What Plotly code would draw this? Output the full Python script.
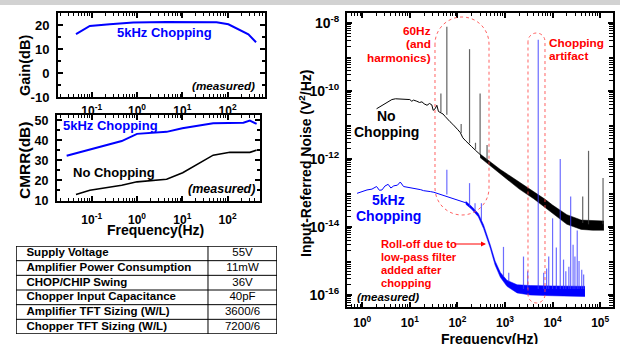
import plotly.graph_objects as go

W, H = 620, 344
FONT = "Liberation Sans, Arial, Helvetica, sans-serif"
BLUE = "#0000ff"
RED = "#ff0000"

# ---------------- data: gain plot ----------------
gain_freq = [0.045, 0.091, 0.25, 0.83, 4.5, 57, 104, 288, 425]
gain_db = [16.2, 19.6, 20.3, 21.0, 21.3, 21.1, 20.3, 16.1, 12.8]

# ---------------- data: CMRR plot ----------------
cmrr_chop_freq = [0.028, 0.091, 0.46, 1.0, 4.5, 10, 48, 223, 310, 437]
cmrr_chop_db = [32.3, 35.5, 39.6, 43.2, 44.2, 46.0, 48.5, 48.8, 49.8, 48.2]
cmrr_nochop_freq = [0.045, 0.091, 0.46, 1.0, 4.5, 10.2, 48, 112, 310, 437]
cmrr_nochop_db = [13.0, 15.1, 17.6, 19.3, 20.6, 23.8, 32.6, 34.0, 34.0, 35.1]

# ---------------- data: table ----------------
table_params = ["Supply Voltage", "Amplifier Power Consumption", "CHOP/CHIP Swing",
                "Chopper Input Capacitance", "Amplifier TFT Sizing (W/L)",
                "Chopper TFT Sizing (W/L)"]
table_values = ["55V", "11mW", "36V", "40pF", "3600/6", "7200/6"]

# ---------------- data: noise spectrum ----------------
nochop_freq = [2.0, 2.5, 3.0, 3.5, 4.2, 5.0, 6.0, 7.0, 8.5, 10, 11, 12, 14, 16, 18, 20,
               23, 26, 29, 31, 34, 37, 40, 44, 50, 55, 62, 70, 80, 90, 100, 115, 130,
               150, 170, 200, 240, 280, 320]
nochop_psd = [3.0e-11, 3.6e-11, 4.4e-11, 5.0e-11, 5.6e-11, 5.9e-11, 5.8e-11, 6.0e-11,
              5.7e-11, 5.6e-11, 5.0e-11, 5.4e-11, 5.0e-11, 4.6e-11, 4.8e-11, 4.2e-11,
              3.8e-11, 4.3e-11, 3.9e-11, 2.7e-11, 3.0e-11, 3.8e-11, 2.5e-11, 2.3e-11,
              2.1e-11, 1.8e-11, 1.45e-11, 1.25e-11, 1.05e-11, 9.0e-12, 7.5e-12, 6.0e-12,
              4.2e-12, 3.4e-12, 2.8e-12, 2.3e-12, 1.8e-12, 1.5e-12, 1.25e-12]
nochop_band_freq = [300, 500, 800, 1000, 2000, 4000, 7000, 10000, 20000, 40000, 70000, 120000]
nochop_band_lo = [1.1e-12, 6.2e-13, 3.5e-13, 2.7e-13, 1.3e-13, 6.8e-14, 3.7e-14, 2.4e-14,
                  1.2e-14, 8.5e-15, 8.0e-15, 8.0e-15]
nochop_band_hi = [1.4e-12, 8.0e-13, 4.9e-13, 4.0e-13, 2.1e-13, 1.15e-13, 6.5e-14, 4.4e-14,
                  2.3e-14, 1.6e-14, 1.55e-14, 1.5e-14]
nochop_spike_freq = [45, 60, 120, 180, 240, 300, 420, 43000, 57000, 115000]
nochop_spike_base = [2.4e-11, 2.0e-11, 5.8e-12, 2.9e-12, 1.9e-12, 1.35e-12, 9.0e-13,
                     1.3e-14, 1.2e-14, 1.2e-14]
nochop_spike_top = [8.5e-11, 7.8e-9, 1.07e-11, 1.7e-9, 3.0e-12, 8.5e-11, 2.6e-12,
                    7.9e-14, 1.74e-12, 2.75e-13]

chop_freq = [0.78, 1.0, 1.26, 1.6, 2.0, 2.3, 2.6, 3.0, 3.5, 4.0, 4.6, 5.5, 6.3, 7.4, 8.5,
             10, 12, 14, 17, 19.5, 23, 27, 32, 37, 44, 51, 62, 83, 100, 135, 160]
chop_psd = [9.8e-14, 1.1e-13, 1.23e-13, 1.3e-13, 1.55e-13, 1.2e-13, 1.23e-13, 1.6e-13,
            1.8e-13, 1.4e-13, 1.62e-13, 1.7e-13, 2.1e-13, 1.55e-13, 1.5e-13, 1.4e-13,
            1.35e-13, 1.3e-13, 1.25e-13, 1.17e-13, 1.15e-13, 1.1e-13, 1.05e-13, 9.8e-14,
            9.4e-14, 8.7e-14, 8.0e-14, 6.9e-14, 6.3e-14, 5.5e-14, 5.0e-14]
chop_band_freq = [150, 200, 275, 355, 490, 620, 800, 1100, 1800, 3400, 10000, 48000]
chop_band_lo = [4.7e-14, 3.3e-14, 2.0e-14, 9.0e-15, 2.4e-15, 7.6e-16, 3.3e-16, 1.8e-16,
                1.15e-16, 1.0e-16, 9.5e-17, 9.0e-17]
chop_band_hi = [5.7e-14, 4.0e-14, 2.5e-14, 1.15e-14, 3.0e-15, 1.0e-15, 4.6e-16, 2.7e-16,
                2.0e-16, 1.9e-16, 1.85e-16, 1.8e-16]
chop_spike_freq = [60, 180, 235, 320, 930, 1200, 2450, 3000, 5000, 6500, 7500, 8300, 10000,
                   12000, 14500, 17000, 19000, 22000, 24000, 27000, 29500, 33000, 36000,
                   41000, 45000]
chop_spike_base = [9.0e-14, 4.0e-14, 3.0e-14, 1.5e-14, 3.5e-16, 2.5e-16, 1.5e-16, 1.5e-16,
                   1.5e-16, 1.5e-16, 1.5e-16, 1.5e-16, 1.5e-16, 1.5e-16, 1.5e-16, 1.5e-16,
                   1.5e-16, 1.5e-16, 1.5e-16, 1.5e-16, 1.5e-16, 1.5e-16, 1.5e-16, 1.5e-16,
                   1.5e-16]
chop_spike_top = [4.8e-13, 1.95e-13, 5.0e-14, 5.0e-14, 2.6e-15, 4.5e-16, 1.35e-15, 5.0e-16,
                  3.2e-9, 4.5e-16, 6.0e-16, 1.35e-15, 1.8e-14, 2.5e-15, 1.0e-12, 1.1e-15,
                  5.0e-16, 6.8e-16, 7.9e-14, 3.0e-15, 1.35e-15, 7.9e-15, 1.0e-15, 5.5e-16,
                  4.0e-16]


def px(x):
    return x / W


def py(y):
    return 1 - y / H


def spikes(freqs, bases, tops):
    xs, ys = [], []
    for f, b, t in zip(freqs, bases, tops):
        xs += [f, f, None]
        ys += [b, t, None]
    return xs, ys


fig = go.Figure()

# gain
fig.add_trace(go.Scatter(x=gain_freq, y=gain_db, mode="lines", line=dict(color=BLUE, width=2),
                         xaxis="x", yaxis="y"))
# cmrr
fig.add_trace(go.Scatter(x=cmrr_chop_freq, y=cmrr_chop_db, mode="lines",
                         line=dict(color=BLUE, width=2), xaxis="x2", yaxis="y2"))
fig.add_trace(go.Scatter(x=cmrr_nochop_freq, y=cmrr_nochop_db, mode="lines",
                         line=dict(color="black", width=1.6), xaxis="x2", yaxis="y2"))

# noise: no chopping
fig.add_trace(go.Scatter(x=nochop_band_freq, y=nochop_band_lo, mode="lines",
                         line=dict(color="black", width=0.5), xaxis="x3", yaxis="y3"))
fig.add_trace(go.Scatter(x=nochop_band_freq, y=nochop_band_hi, mode="lines",
                         line=dict(color="black", width=0.5), fill="tonexty",
                         fillcolor="black", xaxis="x3", yaxis="y3"))
fig.add_trace(go.Scatter(x=nochop_freq, y=nochop_psd, mode="lines",
                         line=dict(color="black", width=1), xaxis="x3", yaxis="y3"))
sx, sy = spikes(nochop_spike_freq, nochop_spike_base, nochop_spike_top)
fig.add_trace(go.Scatter(x=sx, y=sy, mode="lines", line=dict(color="rgba(60,60,60,0.8)", width=1.2),
                         xaxis="x3", yaxis="y3"))

# noise: chopping
fig.add_trace(go.Scatter(x=chop_band_freq, y=chop_band_lo, mode="lines",
                         line=dict(color=BLUE, width=0.5), xaxis="x3", yaxis="y3"))
fig.add_trace(go.Scatter(x=chop_band_freq, y=chop_band_hi, mode="lines",
                         line=dict(color=BLUE, width=0.5), fill="tonexty",
                         fillcolor=BLUE, xaxis="x3", yaxis="y3"))
fig.add_trace(go.Scatter(x=chop_freq, y=chop_psd, mode="lines",
                         line=dict(color=BLUE, width=1), xaxis="x3", yaxis="y3"))
sx, sy = spikes(chop_spike_freq, chop_spike_base, chop_spike_top)
fig.add_trace(go.Scatter(x=sx, y=sy, mode="lines", line=dict(color="rgba(60,60,255,0.75)", width=1.2),
                         xaxis="x3", yaxis="y3"))

# table text (on hidden axes x4/y4)
n_rows = len(table_params)
fig.add_trace(go.Scatter(x=[0.04] * n_rows, y=[i + 0.5 for i in range(n_rows)],
                         text=["<b>%s</b>" % t for t in table_params], mode="text",
                         textposition="middle right",
                         textfont=dict(family=FONT, size=11.5, color="black"),
                         xaxis="x4", yaxis="y4"))
fig.add_trace(go.Scatter(x=[0.868] * n_rows, y=[i + 0.5 for i in range(n_rows)],
                         text=table_values, mode="text", textposition="middle center",
                         textfont=dict(family=FONT, size=11.5, color="black"),
                         xaxis="x4", yaxis="y4"))


def decade_minor(lo, hi):
    return [m * 10.0 ** k for k in range(lo, hi + 1) for m in range(2, 10)]


def sup(k):
    return "<b>10<sup>%d</sup></b>" % k


axis_common = dict(showgrid=False, zeroline=False, showline=True, linecolor="black",
                   linewidth=2, mirror="ticks", ticks="inside", ticklen=5, tickwidth=1.5,
                   tickcolor="black", automargin=False)
tick_font_small = dict(family=FONT, size=12, color="black")
tick_font_y = dict(family=FONT, size=13, color="black")

left_minor = dict(tickvals=decade_minor(-2, 2), ticks="inside", ticklen=3, tickwidth=1,
                  tickcolor="black")

gain_ticks = [-10, 0, 10, 20]
cmrr_ticks = [10, 20, 30, 40, 50]

fig.update_layout(
    template="none",
    width=W, height=H, margin=dict(l=0, r=0, t=0, b=0, pad=0, autoexpand=False),
    paper_bgcolor="white", plot_bgcolor="white", showlegend=False, hovermode=False,
    font=dict(family=FONT, color="black"),
    xaxis=dict(axis_common, type="log", domain=[px(58), px(265)], range=[-1.744, 2.826],
               tickvals=[0.1, 1, 10, 100], ticktext=[sup(-1), sup(0), sup(1), sup(2)],
               tickfont=tick_font_small, minor=left_minor, anchor="y", ticklabelstandoff=2),
    yaxis=dict(axis_common, domain=[py(97), py(13)], range=[-10, 25],
               tickvals=gain_ticks, ticktext=["<b>%d</b>" % v for v in gain_ticks],
               tickfont=tick_font_y, anchor="x",
               minor=dict(dtick=5, ticks="inside", ticklen=3, tickcolor="black"),
               ticklabelstandoff=4),
    xaxis2=dict(axis_common, type="log", domain=[px(57), px(260)], range=[-1.766, 2.715],
                tickvals=[0.1, 1, 10, 100], ticktext=[sup(-1), sup(0), sup(1), sup(2)],
                tickfont=tick_font_small, minor=left_minor, anchor="y2", ticklabelstandoff=7),
    yaxis2=dict(axis_common, domain=[py(200.5), py(115)], range=[10, 52.6],
                tickvals=cmrr_ticks, ticktext=["<b>%d</b>" % v for v in cmrr_ticks],
                tickfont=dict(tick_font_y, size=12.5),
                anchor="x2", minor=dict(dtick=5, ticks="inside", ticklen=3, tickcolor="black"),
                ticklabelstandoff=4),
    xaxis3=dict(axis_common, type="log", domain=[px(347), px(613)], range=[-0.32, 5.27],
                tickvals=[1, 10, 100, 1e3, 1e4, 1e5],
                ticktext=[sup(0), sup(1), sup(2), sup(3), sup(4), sup(5)],
                tickfont=tick_font_small, anchor="y3", ticklabelstandoff=4,
                minor=dict(tickvals=decade_minor(-1, 5), ticks="inside", ticklen=3,
                           tickwidth=1, tickcolor="black")),
    yaxis3=dict(axis_common, type="log", domain=[py(307), py(13)], range=[-16.353, -7.706],
                tickvals=[10.0 ** k for k in range(-16, -7, 2)],
                ticktext=[sup(k) for k in range(-16, -7, 2)],
                tickfont=dict(tick_font_y, size=14), anchor="x3", ticklabelstandoff=3,
                minor=dict(tickvals=[10.0 ** k for k in range(-15, -7, 2)] + decade_minor(-17, -8),
                           ticks="inside", ticklen=4, tickwidth=1, tickcolor="black")),
    xaxis4=dict(domain=[px(16), px(277)], range=[0, 1], visible=False, anchor="y4",
                fixedrange=True, automargin=False),
    yaxis4=dict(domain=[py(334), py(246)], range=[n_rows, 0], visible=False, anchor="x4",
                fixedrange=True, automargin=False),
)

shapes = []
# grey band on top
shapes.append(dict(type="rect", xref="paper", yref="paper", x0=0, x1=1, y0=py(5), y1=1,
                   fillcolor="#d2d2d2", line=dict(width=0), layer="below"))
# table grid
for i in range(n_rows + 1):
    w = 1.5 if i in (0, n_rows) else 1
    shapes.append(dict(type="line", xref="x4", yref="y4", x0=0, x1=1, y0=i, y1=i,
                       line=dict(color="black", width=w)))
for xv, w in ((0, 1.5), (0.7356, 1), (1, 1.5)):
    shapes.append(dict(type="line", xref="x4", yref="y4", x0=xv, x1=xv, y0=0, y1=n_rows,
                       line=dict(color="black", width=w)))


def stadium(x0, x1, y0, y1):
    r = (x1 - x0) / 2.0
    k = 0.5523 * r
    xc = (x0 + x1) / 2.0
    pts = [("M", [(x0, y0 + r)]), ("L", [(x0, y1 - r)]),
           ("C", [(x0, y1 - r + k), (xc - k, y1), (xc, y1)]),
           ("C", [(xc + k, y1), (x1, y1 - r + k), (x1, y1 - r)]),
           ("L", [(x1, y0 + r)]),
           ("C", [(x1, y0 + r - k), (xc + k, y0), (xc, y0)]),
           ("C", [(xc - k, y0), (x0, y0 + r - k), (x0, y0 + r)])]
    s = ""
    for cmd, pp in pts:
        s += cmd + " " + " ".join("%.5f,%.5f" % (px(a), py(b)) for a, b in pp) + " "
    return s + "Z"


for x0, x1, y0, y1 in ((435, 489, 17, 215), (528, 545, 33, 303)):
    shapes.append(dict(type="path", xref="paper", yref="paper", path=stadium(x0, x1, y0, y1),
                       line=dict(color="rgba(255,70,70,0.85)", width=1, dash="dot")))
fig.update_layout(shapes=shapes)


def ann(text, x, y, size, color="black", xanchor="center", yanchor="middle", angle=0,
        align="center"):
    fig.add_annotation(text=text, x=px(x), y=py(y), xref="paper", yref="paper",
                       showarrow=False, xanchor=xanchor, yanchor=yanchor, textangle=angle,
                       align=align, font=dict(family=FONT, size=size, color=color))


# left plots text
ann("<b>5kHz Chopping</b>", 164, 33, 13, BLUE)
ann("<b><i>(measured)</i></b>", 257, 85, 11.7, xanchor="right")
ann("<b>Gain(dB)</b>", 25, 66, 14.5, angle=-90)
ann("<b>5kHz Chopping</b>", 110, 125, 13, BLUE)
ann("<b>No Chopping</b>", 114, 172, 13)
ann("<b><i>(measured)</i></b>", 257, 189, 12.5, xanchor="right")
ann("<b>CMRR(dB)</b>", 25, 161, 15.5, angle=-90)
ann("<b>Frequency(Hz)</b>", 155, 230, 14)

# noise plot text
ann("<b>Input-Referred Noise (V<sup>2</sup>/Hz)</b>", 305, 164, 14, angle=-90)
ann("<b>Frequency(Hz)</b>", 489, 338.5, 14)
ann("<b>No</b>", 386.5, 115.5, 14)
ann("<b>Chopping</b>", 386, 132, 14)
ann("<b>5kHz</b>", 388, 200, 14, BLUE)
ann("<b>Chopping</b>", 388.5, 216, 14, BLUE)
ann("<b><i>(measured)</i></b>", 355, 297, 11.5, xanchor="left")
for txt, yy in (("60Hz", 31), ("(and", 44), ("harmonics)", 58.5)):
    ann("<b>%s</b>" % txt, 433, yy, 11.8, RED, xanchor="right")
for txt, yy in (("Chopping", 42.5), ("artifact", 56.5)):
    ann("<b>%s</b>" % txt, 547, yy, 11.8, RED, xanchor="left")
for txt, yy in (("Roll-off due to", 244), ("low-pass filter", 257), ("added after", 270),
                ("chopping", 282.5)):
    ann("<b>%s</b>" % txt, 379, yy, 11.2, RED, xanchor="left")
fig.add_annotation(x=px(486), y=py(244), xref="paper", yref="paper", ax=-33, ay=0,
                   text="", showarrow=True, arrowhead=2, arrowsize=1, arrowwidth=1,
                   arrowcolor=RED)

fig.write_html("out.html", config={"displayModeBar": False, "responsive": False},
               post_script="document.body.style.margin='0px';"
                           "document.body.style.padding='0px';"
                           "document.body.style.overflow='hidden';")
